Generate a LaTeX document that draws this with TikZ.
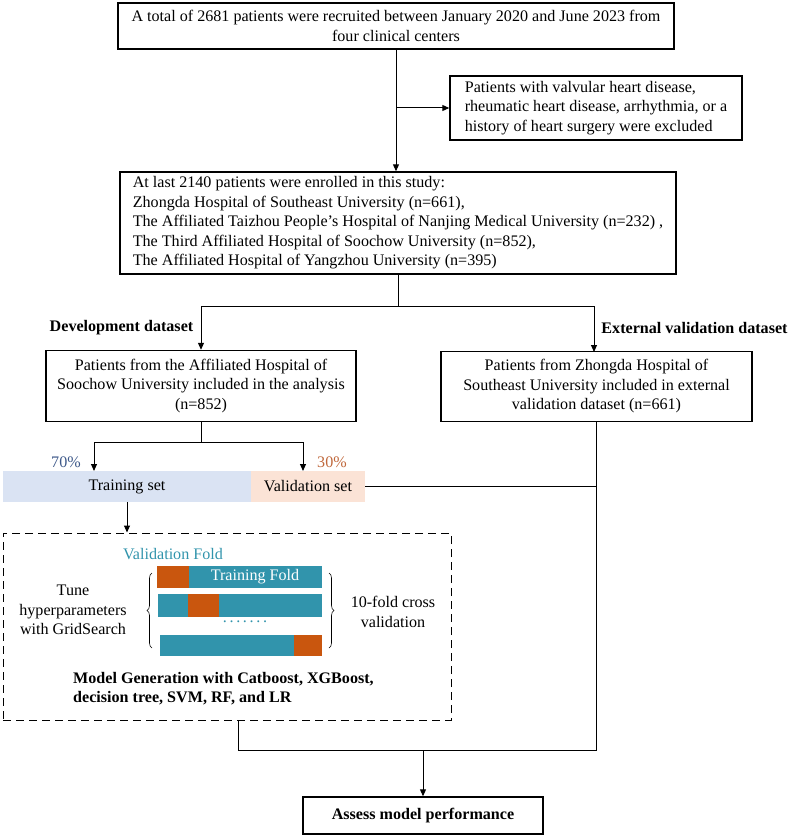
\documentclass[tikz,border=0pt]{standalone}
\usepackage{fontspec}
\setmainfont{Liberation Serif}
\usetikzlibrary{arrows.meta,decorations.pathreplacing}
\definecolor{foldteal}{HTML}{3194AC}
\definecolor{foldorange}{HTML}{C9560E}
\definecolor{trainblue}{HTML}{DAE3F3}
\definecolor{validpeach}{HTML}{FBE3D6}
\definecolor{pctblue}{HTML}{3F5A8A}
\definecolor{pctorange}{HTML}{C0683C}

\begin{document}
\begin{tikzpicture}[x=1pt, y=-1pt,
    every node/.style={font=\fontsize{16.1}{19.5}\selectfont, inner sep=0pt},
    box/.style={draw, line width=1.4pt, align=center},
    lbox/.style={draw, line width=1.4pt, align=left},
    conn/.style={line width=1pt},
    arr/.style={line width=1pt, -{Triangle[length=7pt,width=6pt]}},
    lbl/.style={font=\fontsize{16.1}{19.5}\selectfont\bfseries}]
      \useasboundingbox (0,0) rectangle (790,837);

      % flow boxes
      \node[box, minimum width=556, minimum height=46] (total) at (396,26)
        {A total of 2681 patients were recruited between January 2020 and June 2023 from\\four clinical centers};
      \node[lbox, minimum width=292, minimum height=64] (excl) at (596,108)
        {Patients with valvular heart disease,\\rheumatic heart disease, arrhythmia, or a\\history of heart surgery were excluded};
      \node[lbox, minimum width=556, minimum height=102] (enrol) at (398,223)
        {At last 2140 patients were enrolled in this study:\\
         Zhongda Hospital of Southeast University (n=661),\\
         The Affiliated Taizhou People’s Hospital of Nanjing Medical University (n=232) ,\\
         The Third Affiliated Hospital of Soochow University (n=852),\\
         The Affiliated Hospital of Yangzhou University (n=395)};
      \node[lbl] (devlbl) at (121.5,328) {Development dataset};
      \node[lbl] (extlbl) at (694.5,328) {External validation dataset};
      \node[box, minimum width=310, minimum height=71] (dev) at (201,386)
        {Patients from the Affiliated Hospital of\\Soochow University included in the analysis\\(n=852)};
      \node[box, minimum width=311, minimum height=70] (ext) at (596.5,386.5)
        {Patients from Zhongda Hospital of\\Southeast University included in external\\validation dataset (n=661)};

      % split bars
      \node[fill=trainblue, minimum width=248, minimum height=31] (train) at (127,486.5) {Training set};
      \node[fill=validpeach, minimum width=114, minimum height=31] (valid) at (308,486.5) {Validation set};
      \node[text=pctblue] (pct70) at (66,462) {70\%};
      \node[text=pctorange] (pct30) at (332,462) {30\%};

      % cross validation panel
      \node[draw, line width=1pt, dash pattern=on 8pt off 5pt, minimum width=448, minimum height=187] (cv) at (227,626.5) {};
      \node[text=foldteal] (vfold) at (173,554) {Validation Fold};
      \fill[foldteal] (157,566) rectangle (322,588);
      \fill[foldorange] (157,566) rectangle (189,588);
      \node[text=white] (tfold) at (255,577) {Training Fold};
      \fill[foldteal] (158,594) rectangle (322,617);
      \fill[foldorange] (188,594) rectangle (219,617);
      \node[text=foldteal] (dots) at (245,622) {.\,.\,.\,.\,.\,.\,.};
      \fill[foldteal] (160,635) rectangle (322,656);
      \fill[foldorange] (294,635) rectangle (322,656);
      \draw[line width=0.6pt, decorate, decoration={brace, amplitude=5pt}] (152,648) -- (152,573);
      \draw[line width=0.6pt, decorate, decoration={brace, amplitude=5pt}] (329,573) -- (329,648);
      \node[align=center] (tune) at (73,610) {Tune\\hyperparameters\\with GridSearch};
      \node[align=center] (kfold) at (393,612) {10-fold cross\\validation};
      \node[lbl, align=left, anchor=west] (models) at (73,688.5)
        {Model Generation with Catboost, XGBoost,\\decision tree, SVM, RF, and LR};

      \node[box, minimum width=240, minimum height=37, font=\fontsize{16.1}{19.5}\selectfont\bfseries] (assess) at (423,815.5)
        {Assess model performance};

      % connectors
      \coordinate (excljoin) at (total.south |- excl.west);
      \coordinate (split1) at (398,306);
      \coordinate (split2) at (201,442);
      \coordinate (merge) at (ext.south |- 0,750);
      \draw[arr] (total.south) -- (total.south |- enrol.north);
      \draw[arr] (excljoin) -- (excl.west);
      \draw[conn] (enrol.south -| split1) -- (split1);
      \draw[arr] (split1) -| (dev.north);
      \draw[arr] (split1) -| (594,352);
      \draw[conn] (dev.south) -- (split2);
      \draw[arr] (split2) -| (94,471);
      \draw[arr] (split2) -| (303,471);
      \draw[arr] (train.south) -- (train.south |- cv.north);
      \draw[conn] (valid.east) -- (valid.east -| ext.south);
      \draw[conn] (ext.south) -- (merge);
      \draw[conn] (238,720) |- (merge);
      \draw[arr] (assess.north |- merge) -- (assess.north);
    \end{tikzpicture}
\end{document}
